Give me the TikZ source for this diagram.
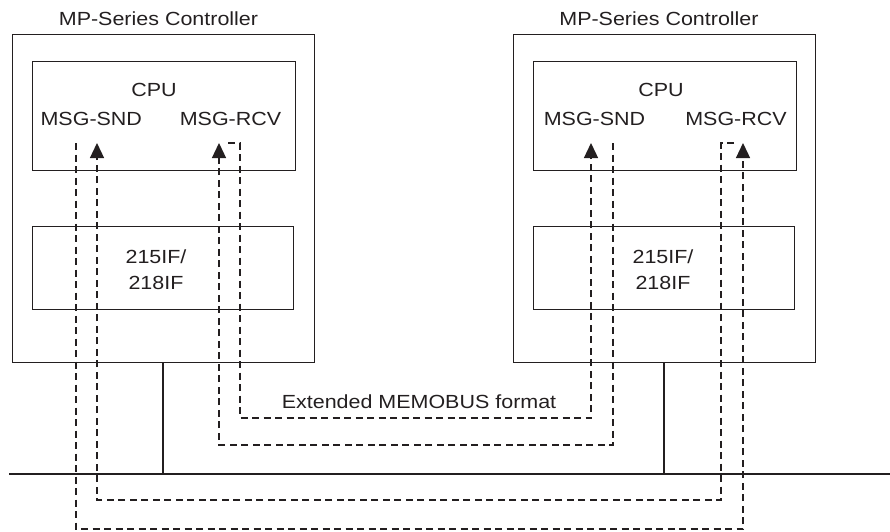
\documentclass[tikz,border=0pt]{standalone}
\usepackage{fontspec}
\setmainfont{Liberation Sans}[FakeStretch=1.13]
\usetikzlibrary{arrows.meta}
\definecolor{ink}{RGB}{35,31,32}
\begin{document}
\begin{tikzpicture}[x=1pt,y=-1pt,
  box/.style={draw=ink,line width=1pt,rectangle,inner sep=0pt},
  lbl/.style={anchor=base,inner sep=0pt,text=ink,font=\fontsize{19}{22}\selectfont},
  msg/.style={draw=ink,line width=1.3pt,dash pattern=on 7pt off 4.5pt},
  tip/.style={-{Triangle[width=14pt,length=15pt]}},
  wire/.style={draw=ink,line width=2pt}]
\useasboundingbox (0,0) rectangle (890,531);
% controllers
\node[box,minimum width=302pt,minimum height=328pt] (lout) at (163,198) {};
\node[box,minimum width=302pt,minimum height=328pt] (rout) at (664,198) {};
\node[box,minimum width=263pt,minimum height=109pt] (lcpu) at (163.5,115.5) {};
\node[box,minimum width=263pt,minimum height=109pt] (rcpu) at (664.5,115.5) {};
\node[box,minimum width=261pt,minimum height=83pt] (lif) at (162.5,267.5) {};
\node[box,minimum width=261pt,minimum height=83pt] (rif) at (663.5,267.5) {};
% labels
\node[lbl] (ltitle) at (158.5,25) {MP-Series Controller};
\node[lbl] (rtitle) at (659,25) {MP-Series Controller};
\node[lbl] (lcput) at (154,96) {CPU};
\node[lbl] (rcput) at (661,96) {CPU};
\node[lbl] (lsndt) at (91.3,125) {MSG-SND};
\node[lbl] (lrcvt) at (230.5,125) {MSG-RCV};
\node[lbl] (rsndt) at (594.5,125) {MSG-SND};
\node[lbl] (rrcvt) at (736,125) {MSG-RCV};
\node[lbl] (lif1) at (156,263) {215IF/};
\node[lbl] (lif2) at (156,289) {218IF};
\node[lbl] (rif1) at (663,263) {215IF/};
\node[lbl] (rif2) at (663,289) {218IF};
\node[lbl] (fmt) at (419,408) {Extended MEMOBUS format};
% bus
\coordinate (busL) at (9,474);
\coordinate (busR) at (890,474);
\draw[wire] (busL) -- (busR);
\draw[wire] (lout.south) -- (lout.south |- busL);
\draw[wire] (rout.south) -- (rout.south |- busL);
% message paths
\coordinate (lSndOut) at (76,143);
\coordinate (lSndIn) at (97,143);
\coordinate (lRcvIn) at (219,143);
\coordinate (lRcvHook) at (228,143);
\coordinate (lRcvOut) at (240,143);
\coordinate (rSndIn) at (591,143);
\coordinate (rSndOut) at (613,143);
\coordinate (rRcvOut) at (721,143);
\coordinate (rRcvHook) at (734,143);
\coordinate (rRcvIn) at (743,143);
\coordinate (lv1) at (0,529);
\coordinate (lv2) at (0,500);
\coordinate (lv3) at (0,445);
\coordinate (lv4) at (0,418);
\draw[msg,tip] (lSndOut) -- (lSndOut |- lv1) -| (rRcvIn);
\draw[msg,tip] (rRcvHook) -- (rRcvOut) -- (rRcvOut |- lv2) -| (lSndIn);
\draw[msg,tip] (rSndOut) -- (rSndOut |- lv3) -| (lRcvIn);
\draw[msg,tip] (lRcvHook) -- (lRcvOut) -- (lRcvOut |- lv4) -| (rSndIn);
\end{tikzpicture}
\end{document}
